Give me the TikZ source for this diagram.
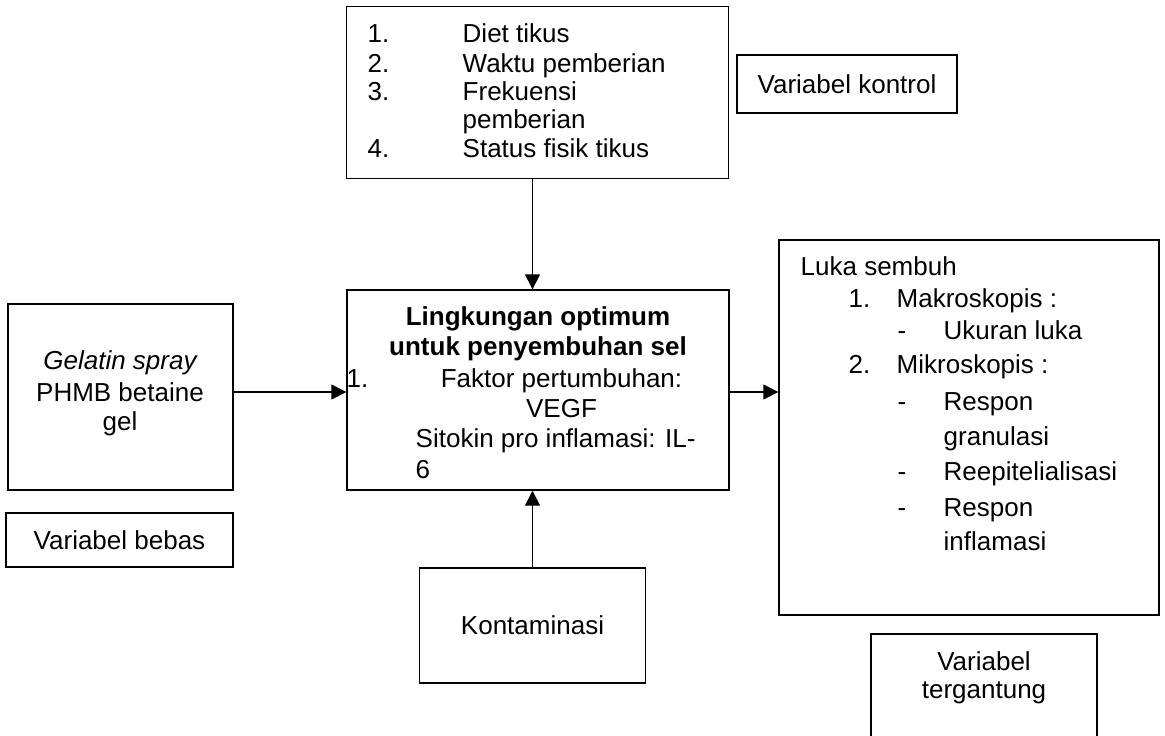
\documentclass[tikz,border=0pt]{standalone}
\usepackage{fontspec}
\setmainfont{Liberation Sans}
\usetikzlibrary{arrows.meta, positioning}

\tikzset{
  box/.style={draw, rectangle, inner sep=0pt},
  txt/.style={inner sep=0pt, font=\fontsize{13pt}{15pt}\selectfont},
}

\begin{document}
\begin{tikzpicture}[x=0.5pt,y=-0.5pt,>={Triangle[length=7.5pt,width=7.5pt]},line width=0.7pt]
  \useasboundingbox (0,0) rectangle (1165,735);

  % kotak-kotak
  \node[box, minimum width=191pt, minimum height=86pt] (ctrl) at (537.5,92.5) {};
  \node[box, minimum width=110pt, minimum height=29pt] (vkon) at (847,84) {};
  \node[box, minimum width=191pt, minimum height=100pt] (opt) at (538,390) {};
  \node[box, minimum width=112.5pt, minimum height=93pt] (gel) at (120.5,397) {};
  \node[box, minimum width=113.5pt, minimum height=27pt] (vbeb) at (119.5,540) {};
  \node[box, minimum width=190pt, minimum height=187.5pt] (luka) at (969,427.5) {};
  \node[box, minimum width=113pt, minimum height=57.5pt] (konta) at (532.5,625.5) {};
  \node[box, minimum width=113pt, minimum height=65pt] (vter) at (984,699) {};

  % panah
  \draw[->] (konta.north |- ctrl.south) -- (konta.north |- opt.north);
  \draw[->] (konta.north) -- (konta.north |- opt.south);
  \draw[->] ([yshift=-1pt]opt.west -| gel.east) -- ([yshift=-1pt]opt.west);
  \draw[->] ([yshift=-1pt]opt.east) -- ([yshift=-1pt]opt.east -| luka.west);

  % variabel kontrol
  \foreach \num/\isi/\yy [count=\i] in {1./Diet tikus/42, 2./Waktu pemberian/72,
      3./Frekuensi/100, /pemberian/128, 4./Status fisik tikus/157} {
    \node[txt, anchor=base west] (cn\i) at (367,\yy) {\num};
    \node[txt, anchor=base west] (ct\i) at (462,\yy) {\isi};
  }
  \node[txt] (vkont) at (vkon) {Variabel kontrol};

  % lingkungan optimum
  \node[txt, anchor=base, font=\fontsize{13pt}{15pt}\selectfont\bfseries] (opt1) at (538,325) {Lingkungan optimum};
  \node[txt, anchor=base, font=\fontsize{13pt}{15pt}\selectfont\bfseries] (opt2) at (538,355) {untuk penyembuhan sel};
  \node[txt, anchor=base west] (opt3) at (346,387) {1.};
  \node[txt, anchor=base] (opt4) at (561.5,387) {Faktor pertumbuhan:};
  \node[txt, anchor=base] (opt5) at (561.5,417) {VEGF};
  \node[txt, anchor=base west] (opt6) at (415,447) {Sitokin pro inflamasi: IL-};
  \node[txt, anchor=base west] (opt7) at (415,478) {6};

  % variabel bebas
  \node[txt, anchor=base] (gel1) at (120,369) {\itshape Gelatin spray};
  \node[txt, anchor=base] (gel2) at (120,401) {PHMB betaine};
  \node[txt, anchor=base] (gel3) at (120,430) {gel};
  \node[txt] (vbebt) at (vbeb) {Variabel bebas};

  % luka sembuh
  \node[txt, anchor=base west] (lk0) at (800,275) {Luka sembuh};
  \foreach \num/\xa/\xb/\isi/\yy [count=\i] in {
      1./848/896/Makroskopis :/307,
      -/897/943/Ukuran luka/339,
      2./848/896/Mikroskopis :/373,
      -/897/943/Respon/410,
      /897/943/granulasi/445,
      -/897/943/Reepitelialisasi/480,
      -/897/943/Respon/516,
      /897/943/inflamasi/550} {
    \node[txt, anchor=base west] (ln\i) at (\xa,\yy) {\num};
    \node[txt, anchor=base west] (lt\i) at (\xb,\yy) {\isi};
  }

  % kontaminasi & variabel tergantung
  \node[txt] (kontat) at (konta) {Kontaminasi};
  \node[txt, anchor=base] (vter1) at (984,670) {Variabel};
  \node[txt, anchor=base] (vter2) at (984,698) {tergantung};
\end{tikzpicture}
\end{document}
